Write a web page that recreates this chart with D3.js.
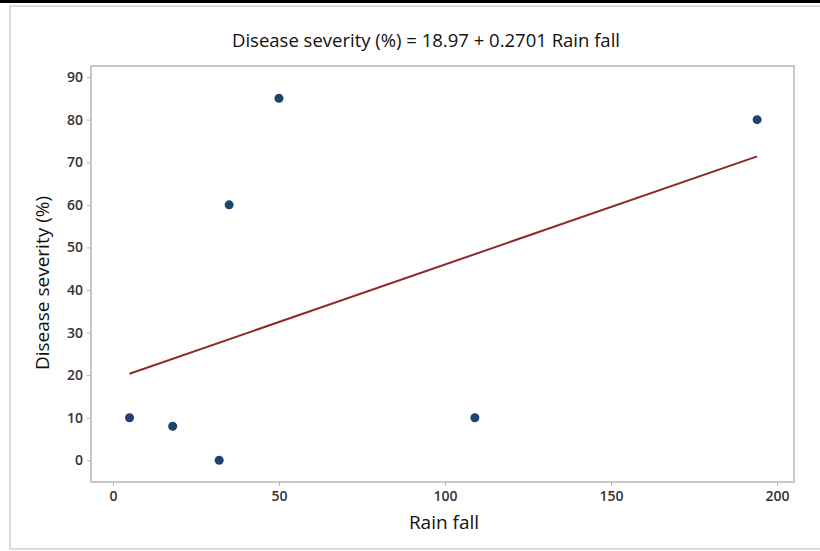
<!DOCTYPE html>
<html>
<head>
<meta charset="utf-8">
<script src="https://cdn.jsdelivr.net/npm/d3@7"></script>
<style>
  body { margin: 0; background: #fff; }
  text { font-family: "Open Sans", "Noto Sans", sans-serif; }
</style>
</head>
<body>
<div id="chart"></div>
<script>
const rainFall = [5, 18, 32, 35, 50, 109, 194];
const severity = [10, 8, 0, 60, 85, 10, 80];
const xTicks = [0, 50, 100, 150, 200];
const yTicks = [0, 10, 20, 30, 40, 50, 60, 70, 80, 90];
const intercept = 18.97;
const slope = 0.2701;

const width = 820, height = 551;
const margin = { top: 66, right: 26, bottom: 69, left: 91 };

const svg = d3
  .select("#chart")
  .append("svg")
  .attr("width", width)
  .attr("height", height);

// outer frame like the screenshot
svg.append("rect").attr("x", 0).attr("y", 0).attr("width", width).attr("height", 3).attr("fill", "#000");
svg
  .append("rect")
  .attr("x", 10)
  .attr("y", 6)
  .attr("width", width)
  .attr("height", height - 8)
  .attr("fill", "none")
  .attr("stroke", "#dcdcdc")
  .attr("stroke-width", 2);

const x = d3.scaleLinear().domain([-6.6, 205.1]).range([margin.left, width - margin.right]);
const y = d3.scaleLinear().domain([-5.1, 92.6]).range([height - margin.bottom, margin.top]);

// plot box
svg
  .append("rect")
  .attr("x", margin.left)
  .attr("y", margin.top)
  .attr("width", width - margin.left - margin.right)
  .attr("height", height - margin.top - margin.bottom)
  .attr("fill", "#fff")
  .attr("stroke", "#b8b8b8")
  .attr("stroke-width", 1.5);

const xAxis = svg
  .append("g")
  .attr("transform", `translate(0, ${height - margin.bottom})`)
  .call(d3.axisBottom(x).tickValues(xTicks).tickSize(4).tickPadding(5));

const yAxis = svg
  .append("g")
  .attr("transform", `translate(${margin.left}, 0)`)
  .call(d3.axisLeft(y).tickValues(yTicks).tickSize(4).tickPadding(4));

[xAxis, yAxis].forEach((g) => {
  g.select(".domain").remove();
  g.selectAll(".tick line").attr("stroke", "#b8b8b8");
  g.selectAll(".tick text")
    .attr("fill", "#333")
    .attr("font-size", "14px")
    .attr("font-weight", 600)
    .attr("font-family", "'Open Sans', sans-serif");
});

// fitted line
const xs = d3.extent(rainFall);
svg
  .append("line")
  .attr("x1", x(xs[0]))
  .attr("y1", y(intercept + slope * xs[0]))
  .attr("x2", x(xs[1]))
  .attr("y2", y(intercept + slope * xs[1]))
  .attr("stroke", "#8e2a2a")
  .attr("stroke-width", 2);

svg
  .selectAll("circle")
  .data(rainFall)
  .enter()
  .append("circle")
  .attr("cx", (d) => x(d))
  .attr("cy", (d, i) => y(severity[i]))
  .attr("r", 4.5)
  .attr("fill", "#1f4270");

svg
  .append("text")
  .attr("x", 426)
  .attr("y", 47)
  .attr("text-anchor", "middle")
  .attr("font-size", "18.5px")
  .attr("fill", "#111")
  .text("Disease severity (%) = 18.97 + 0.2701 Rain fall");

svg
  .append("text")
  .attr("x", 444)
  .attr("y", 529)
  .attr("text-anchor", "middle")
  .attr("font-size", "19px")
  .attr("fill", "#111")
  .text("Rain fall");

svg
  .append("text")
  .attr("transform", "translate(49, 283) rotate(-90)")
  .attr("text-anchor", "middle")
  .attr("font-size", "19px")
  .attr("fill", "#111")
  .text("Disease severity (%)");
</script>
</body>
</html>
